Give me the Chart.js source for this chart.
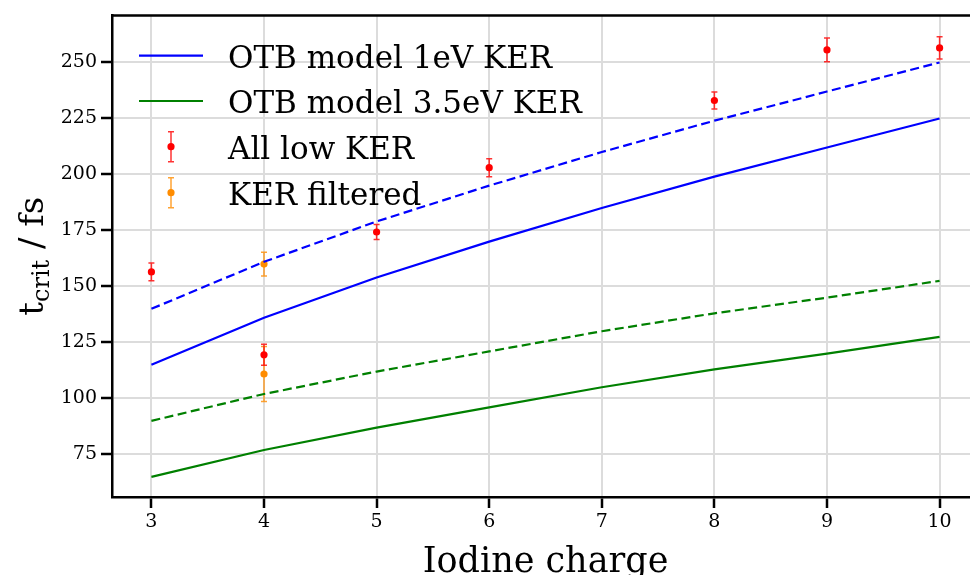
<!DOCTYPE html>
<html>
<head>
<meta charset="utf-8">
<script src="https://cdn.jsdelivr.net/npm/chart.js@4.4.1/dist/chart.umd.min.js"></script>
<style>
  html, body { margin: 0; padding: 0; background: #fff; }
  #wrap { width: 970px; height: 575px; overflow: hidden; }
</style>
</head>
<body>
<div id="wrap"><canvas id="chart" width="990" height="575"></canvas></div>
<script>
// model curves, one value per iodine charge
const charges = [3, 4, 5, 6, 7, 8, 9, 10];
const otb1eV = [115, 136, 154, 170, 185, 199, 212, 225];
const otb1eVDashed = [140, 161, 179, 195, 210, 224, 237, 250];
const otb35eV = [65, 77, 87, 96, 105, 113, 120, 127.5];
const otb35eVDashed = [90, 102, 112, 121, 130, 138, 145, 152.5];

// measured points with symmetric errors
const lowKerX = [3, 4, 5, 6, 8, 9, 10];
const lowKerY = [156.5, 119.5, 174.3, 203, 233, 255.6, 256.5];
const lowKerErr = [4, 4.7, 3.3, 4, 3.8, 5.3, 5];
const filteredX = [4, 4];
const filteredY = [160, 110.9];
const filteredErr = [5.3, 12.3];

const xTicks = [3, 4, 5, 6, 7, 8, 9, 10];
const yTicks = [75, 100, 125, 150, 175, 200, 225, 250];

const SERIF = "'DejaVu Serif', serif";
const BLUE = "#0000ff", GREEN = "#008000", RED = "#ff0000", ORANGE = "#ff8c00";

const toXY = (xs, ys) => xs.map((x, i) => ({ x: x, y: ys[i] }));

const lineSet = (label, ys, color, dashed) => ({
  type: "line",
  label: label,
  data: toXY(charges, ys),
  borderColor: color,
  borderWidth: 2.2,
  borderDash: dashed ? [9, 4.5] : [],
  pointRadius: 0,
  fill: false,
  tension: 0,
});

const pointSet = (label, xs, ys, errs, color) => ({
  type: "scatter",
  label: label,
  data: toXY(xs, ys),
  errors: errs,
  backgroundColor: color,
  borderWidth: 0,
  pointRadius: 3.6,
  errColor: color,
});

// error bars drawn just before the points of each scatter dataset
const errorBars = {
  id: "errorBars",
  beforeDatasetDraw(chart, args) {
    const ds = chart.data.datasets[args.index];
    if (!ds.errors) return;
    const { ctx, scales } = chart;
    ctx.save();
    ctx.strokeStyle = ds.errColor;
    ctx.globalAlpha = 0.8;
    ctx.lineWidth = 1.5;
    ds.data.forEach((p, i) => {
      const px = scales.x.getPixelForValue(p.x);
      const top = scales.y.getPixelForValue(p.y + ds.errors[i]);
      const bot = scales.y.getPixelForValue(p.y - ds.errors[i]);
      ctx.beginPath();
      ctx.moveTo(px, top); ctx.lineTo(px, bot);
      ctx.moveTo(px - 3, top); ctx.lineTo(px + 3, top);
      ctx.moveTo(px - 3, bot); ctx.lineTo(px + 3, bot);
      ctx.stroke();
    });
    ctx.restore();
  },
};

// matplotlib style frame, legend and axis titles
const decorations = {
  id: "decorations",
  afterDraw(chart) {
    const { ctx, chartArea: a } = chart;
    ctx.save();
    ctx.strokeStyle = "#000";
    ctx.lineWidth = 2.5;
    ctx.beginPath();
    ctx.moveTo(a.left, a.top); ctx.lineTo(a.right, a.top);
    ctx.moveTo(a.right, a.top); ctx.lineTo(a.right, a.bottom);
    ctx.stroke();

    // legend
    const rows = [
      { text: "OTB model 1eV KER", kind: "line", color: BLUE },
      { text: "OTB model 3.5eV KER", kind: "line", color: GREEN },
      { text: "All low KER", kind: "err", color: RED },
      { text: "KER filtered", kind: "err", color: ORANGE },
    ];
    const rowY = [55.7, 101, 146.7, 192.7];
    ctx.font = "31px " + SERIF;
    ctx.fillStyle = "#000";
    ctx.textBaseline = "alphabetic";
    rows.forEach((r, i) => {
      const y = rowY[i];
      if (r.kind === "line") {
        ctx.strokeStyle = r.color;
        ctx.lineWidth = 2.2;
        ctx.beginPath();
        ctx.moveTo(139, y); ctx.lineTo(203, y);
        ctx.stroke();
      } else {
        ctx.strokeStyle = r.color;
        ctx.globalAlpha = 0.8;
        ctx.lineWidth = 1.5;
        ctx.beginPath();
        ctx.moveTo(171, y - 15); ctx.lineTo(171, y + 15);
        ctx.moveTo(168, y - 15); ctx.lineTo(174, y - 15);
        ctx.moveTo(168, y + 15); ctx.lineTo(174, y + 15);
        ctx.stroke();
        ctx.globalAlpha = 1;
        ctx.fillStyle = r.color;
        ctx.beginPath();
        ctx.arc(171, y, 3.6, 0, Math.PI * 2);
        ctx.fill();
        ctx.fillStyle = "#000";
      }
      ctx.textAlign = "left";
      ctx.fillText(r.text, 228, y + 12);
    });

    // x title
    ctx.font = "35px " + SERIF;
    ctx.textAlign = "center";
    ctx.fillText("Iodine charge", (a.left + a.right) / 2, 572);

    // y title: t_crit / fs
    const mid = (a.top + a.bottom) / 2;
    ctx.translate(43, mid);
    ctx.rotate(-Math.PI / 2);
    const big = "34px " + SERIF, small = "24px " + SERIF;
    ctx.font = big; const w1 = ctx.measureText("t").width;
    ctx.font = small; const w2 = ctx.measureText("crit").width;
    ctx.font = big; const w3 = ctx.measureText(" / fs").width;
    let x0 = -(w1 + w2 + w3) / 2;
    ctx.textAlign = "left";
    ctx.font = big; ctx.fillText("t", x0, 0); x0 += w1;
    ctx.font = small; ctx.fillText("crit", x0, 6); x0 += w2;
    ctx.font = big; ctx.fillText(" / fs", x0, 0);
    ctx.restore();
  },
};

const config = {
  data: {
    datasets: [
      lineSet("OTB model 1eV KER", otb1eV, BLUE, false),
      lineSet("OTB model 1eV KER upper", otb1eVDashed, BLUE, true),
      lineSet("OTB model 3.5eV KER", otb35eV, GREEN, false),
      lineSet("OTB model 3.5eV KER upper", otb35eVDashed, GREEN, true),
      pointSet("All low KER", lowKerX, lowKerY, lowKerErr, RED),
      pointSet("KER filtered", filteredX, filteredY, filteredErr, ORANGE),
    ],
  },
  options: {
    responsive: false,
    devicePixelRatio: 1,
    animation: false,
    layout: { padding: { top: 14, right: 11, left: 0, bottom: 0 } },
    plugins: {
      legend: { display: false },
      tooltip: { enabled: false },
    },
    scales: {
      x: {
        type: "linear",
        min: 2.65,
        max: 10.35,
        afterBuildTicks: (s) => { s.ticks = xTicks.map((v) => ({ value: v })); },
        afterFit: (s) => { s.height = 78; },
        grid: {
          color: "#dcdcdc",
          lineWidth: 2,
          tickColor: "#000",
          tickWidth: 2.5,
          tickLength: 11,
        },
        border: { color: "#000", width: 2.5 },
        ticks: {
          color: "#000",
          font: { family: SERIF, size: 19 },
          padding: 3,
          maxRotation: 0,
        },
      },
      y: {
        type: "linear",
        min: 56,
        max: 271,
        afterBuildTicks: (s) => { s.ticks = yTicks.map((v) => ({ value: v })); },
        afterFit: (s) => { s.width = 112; },
        grid: {
          color: "#dcdcdc",
          lineWidth: 2,
          tickColor: "#000",
          tickWidth: 2.5,
          tickLength: 11,
        },
        border: { color: "#000", width: 2.5 },
        ticks: {
          color: "#000",
          font: { family: SERIF, size: 19 },
          padding: 4,
        },
      },
    },
  },
  plugins: [errorBars, decorations],
};

new Chart(document.getElementById("chart").getContext("2d"), config);
</script>
</body>
</html>
